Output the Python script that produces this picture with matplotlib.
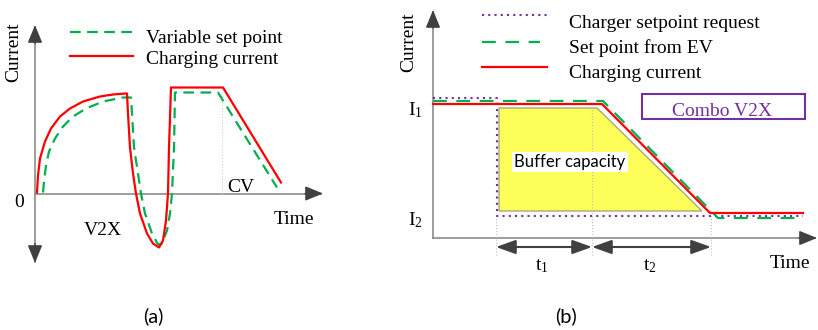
import matplotlib.pyplot as plt

plt.rcParams['font.family'] = ['Liberation Serif', 'DejaVu Serif']
plt.rcParams['mathtext.default'] = 'regular'

# ---- panel (a): variable set point vs charging current (time, current) ----
a_set_t = [8, 9, 11, 14, 20, 28, 38, 51, 68, 88, 95, 96, 97, 99, 103, 106, 110, 117,
           123, 127, 132, 135, 137, 139, 140, 183, 242]
a_set_i = [1, 12, 28, 42, 55, 67, 77, 85, 92, 96, 96, 96, 80, 46, 20, 0, -20, -40,
           -51, -50, -37, -20, 0, 46, 101, 101, 6]
a_chg_t = [2, 3, 5, 10, 16, 25, 35, 48, 65, 78, 90, 92, 93, 95, 98, 101, 105, 112,
           118, 124, 128, 131, 133, 134, 136, 188, 246]
a_chg_i = [1, 18, 35, 52, 65, 77, 85, 92, 97, 99, 100, 100, 80, 46, 20, 0, -20, -40,
           -50, -54, -47, -27, 0, 46, 106, 106, 11]
a_cv_t = 187

# ---- panel (b): buffer capacity ----
b_req_t = [0, 64, 64, 370]
b_req_i = [140, 140, 22, 22]
b_ev_t = [0, 170, 285, 362]
b_ev_i = [137, 137, 20, 20]
b_chg_t = [0, 169, 277, 370]
b_chg_i = [134, 134, 25, 25]
buf_t = [66, 164, 269, 66]
buf_i = [130, 130, 27, 27]
b_marks_t = [63, 159, 278]
b_marks_top = [22, 134, 25]

RED = '#ff0000'
GREEN = '#00b050'
PURPLE = '#7030a0'
AXC = '#8c8c8c'
HEAD = '#404040'
FS = 14

fig = plt.figure(figsize=(8.18, 3.30), dpi=100)
ax_a = fig.add_axes([0, 50 / 330, 330 / 818, 280 / 330])
ax_b = fig.add_axes([390 / 818, 50 / 330, 428 / 818, 280 / 330])
ax_a.set_xlim(-35, 295)
ax_a.set_ylim(-86.5, 193.5)
ax_b.set_xlim(-43, 385)
ax_b.set_ylim(-42, 238)
for ax in (ax_a, ax_b):
    ax.axis('off')


def head(ax, tip, frm):
    ax.annotate('', xy=tip, xytext=frm,
                arrowprops=dict(arrowstyle='-|>,head_length=1.1,head_width=0.45',
                                color=HEAD, lw=1, mutation_scale=10,
                                shrinkA=0, shrinkB=0))


# axes of (a)
ax_a.plot([0, 0], [-68, 167], color=AXC, lw=1.2)
ax_a.plot([0, 286], [0, 0], color=AXC, lw=1.2)
head(ax_a, (0, 168.5), (0, 150))
head(ax_a, (0, -69.5), (0, -50))
head(ax_a, (288, 0), (270, 0))
ax_a.plot([a_cv_t, a_cv_t], [0, 101], color='#cfcfcf', lw=0.8, ls=':')

ax_a.plot(a_set_t, a_set_i, color=GREEN, lw=1.6, dashes=(4.8, 2.9))
ax_a.plot(a_chg_t, a_chg_i, color=RED, lw=1.6)

ax_a.plot([35, 98], [161.5, 161.5], color=GREEN, lw=1.6, dashes=(4.8, 2.9))
ax_a.plot([35, 98], [137.5, 137.5], color=RED, lw=1.6)
ax_a.text(111, 150.5, 'Variable set point', fontsize=FS, va='baseline')
ax_a.text(111, 129, 'Charging current', fontsize=FS, va='baseline')

ax_a.text(-21, 141.5, 'Current', fontsize=FS, rotation=90, ha='center', va='center')
ax_a.text(-16, -13.5, '0', fontsize=FS, ha='center', va='baseline')
ax_a.text(68, -41.5, 'V2X', fontsize=FS, ha='center', va='baseline')
ax_a.text(206, 1.5, 'CV', fontsize=FS, ha='center', va='baseline')
ax_a.text(259, -30.5, 'Time', fontsize=FS, ha='center', va='baseline')

# axes of (b)
ax_b.plot([0, 0], [0, 226], color=AXC, lw=1.2)
ax_b.plot([0, 382], [0, 0], color=AXC, lw=1.2)
head(ax_b, (0, 228), (0, 210))
head(ax_b, (384, 0), (366, 0))

for t, top in zip(b_marks_t, b_marks_top):
    ax_b.plot([t, t], [-17, top], color='#bfbfbf', lw=0.8, ls=':')

ax_b.fill(buf_t, buf_i, facecolor='#ffff5a', edgecolor='#a8a880', lw=1)
ax_b.text(137, 71, 'Buffer capacity', family='Lato', fontsize=12, ha='center',
          va='baseline', bbox=dict(facecolor='white', edgecolor='none', pad=1.5))

ax_b.plot(b_req_t, b_req_i, color=PURPLE, lw=1.5, dashes=(1, 2))
ax_b.plot(b_ev_t, b_ev_i, color=GREEN, lw=1.6, dashes=(6.2, 4.3))
ax_b.plot(b_chg_t, b_chg_i, color=RED, lw=1.6)

for t0, t1 in zip(b_marks_t[:-1], b_marks_t[1:]):
    ax_b.annotate('', xy=(t1, -9), xytext=(t0, -9),
                  arrowprops=dict(arrowstyle='<|-|>,head_length=1.2,head_width=0.43',
                                  color=HEAD, lw=1.5, mutation_scale=10,
                                  shrinkA=0, shrinkB=0))
ax_b.text(109, -32, 't$_1$', fontsize=FS, ha='center', va='baseline')
ax_b.text(217, -32, 't$_2$', fontsize=FS, ha='center', va='baseline')

ax_b.plot([49, 114], [223, 223], color=PURPLE, lw=1.5, dashes=(1, 2))
ax_b.plot([49, 107], [196, 196], color=GREEN, lw=1.6, dashes=(6.2, 4.3))
ax_b.plot([49, 114], [171, 171], color=RED, lw=1.6)
ax_b.text(136, 210, 'Charger setpoint request', fontsize=FS, va='baseline')
ax_b.text(136, 185, 'Set point from EV', fontsize=FS, va='baseline')
ax_b.text(136, 160.5, 'Charging current', fontsize=FS, va='baseline')

ax_b.text(-25, 123, 'I$_1$', fontsize=FS, va='baseline')
ax_b.text(-25, 13, 'I$_2$', fontsize=FS, va='baseline')
ax_b.text(-24, 196, 'Current', fontsize=FS, rotation=90, ha='center', va='center')
ax_b.text(357, -30, 'Time', fontsize=FS, ha='center', va='baseline')

ax_b.add_patch(plt.Rectangle((209, 119), 163, 25, facecolor='white',
                             edgecolor=PURPLE, lw=1.5))
ax_b.text(289, 122, 'Combo V2X', fontsize=FS, color=PURPLE, ha='center',
          va='baseline')

fig.text(153 / 818, 1 - 316 / 330, '(a)', family='Lato', fontsize=14.5,
         ha='center', va='center')
fig.text(566 / 818, 1 - 316 / 330, '(b)', family='Lato', fontsize=14.5,
         ha='center', va='center')

fig.savefig('out.png', dpi=100)
